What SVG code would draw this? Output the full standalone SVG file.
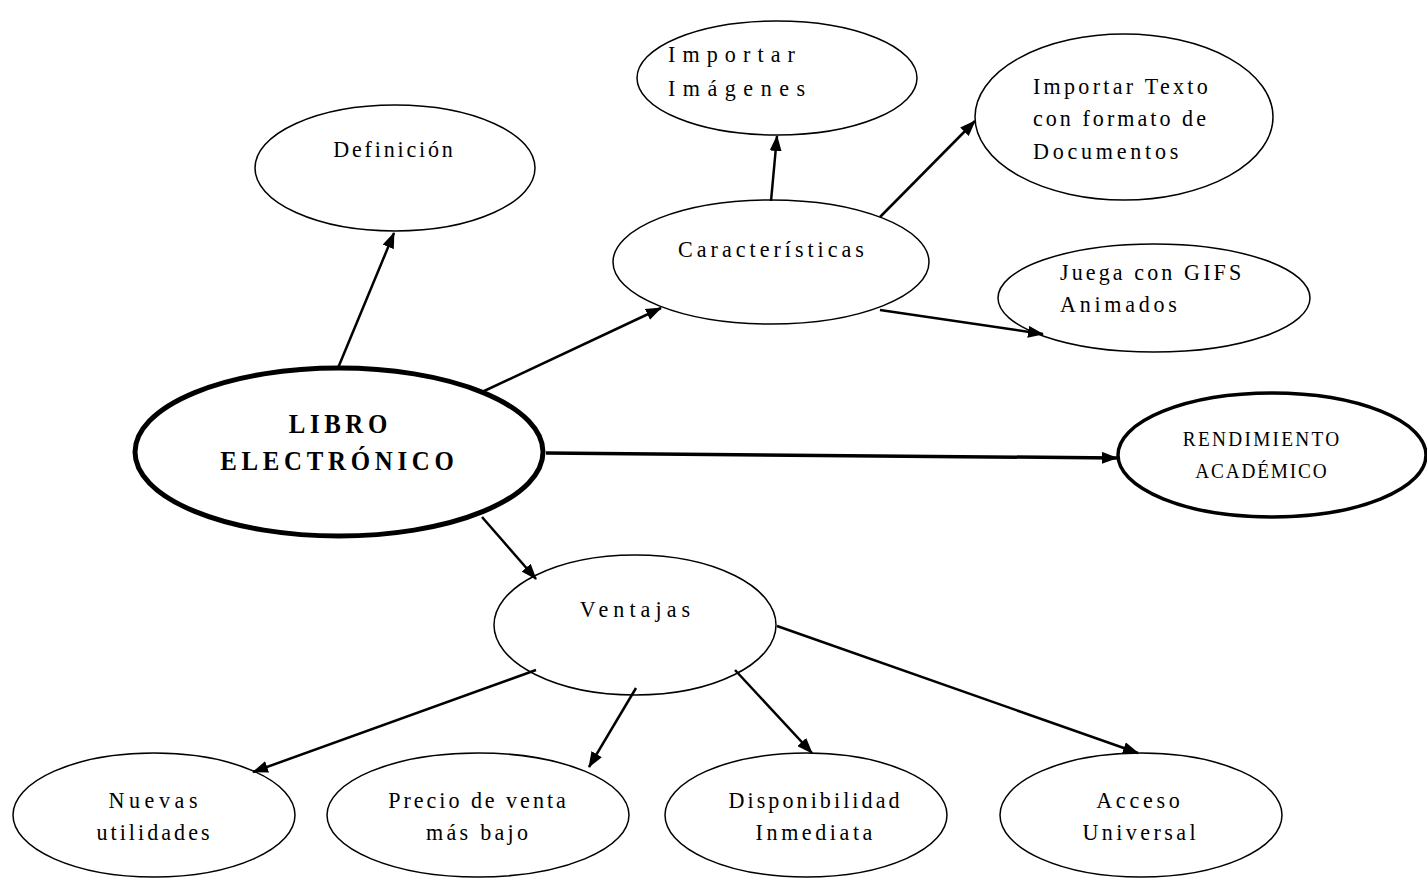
<svg xmlns="http://www.w3.org/2000/svg" width="1427" height="878" viewBox="0 0 1427 878">
<defs>
<marker id="arr" markerUnits="userSpaceOnUse" markerWidth="16" markerHeight="12" refX="15" refY="6" orient="auto">
<path d="M0,0 L16,6 L0,12 z" fill="#000"/>
</marker>
<style>
.n{fill:#fff;stroke:#000;stroke-width:1.5}
.t{font-family:"Liberation Serif","Times New Roman",serif;font-size:24px;fill:#000}
.c{text-anchor:middle}
.b{font-weight:bold;font-size:27px}
.r{font-size:21px}
.e line{stroke:#000;stroke-width:2.5;marker-end:url(#arr)}
</style>
</defs>
<rect width="1427" height="878" fill="#fff"/>
<g id="definicion"><ellipse class="n" cx="395" cy="168" rx="140" ry="63"/><text class="t c" transform="translate(393,157) scale(0.92,1)" textLength="130" lengthAdjust="spacing">Definición</text></g>
<g id="importar-imagenes"><ellipse class="n" cx="777" cy="78" rx="140" ry="57"/><text class="t" transform="translate(668,62) scale(0.92,1)" textLength="138" lengthAdjust="spacing">Importar</text><text class="t" transform="translate(668,96) scale(0.92,1)" textLength="149" lengthAdjust="spacing">Imágenes</text></g>
<g id="importar-texto"><ellipse class="n" cx="1124" cy="117" rx="149" ry="83"/><text class="t" transform="translate(1033,94) scale(0.92,1)" textLength="190" lengthAdjust="spacing">Importar Texto</text><text class="t" transform="translate(1033,126) scale(0.92,1)" textLength="188" lengthAdjust="spacing">con formato de</text><text class="t" transform="translate(1033,159) scale(0.92,1)" textLength="158" lengthAdjust="spacing">Documentos</text></g>
<g id="caracteristicas"><ellipse class="n" cx="771" cy="262" rx="158" ry="62"/><text class="t c" transform="translate(771,257) scale(0.92,1)" textLength="202" lengthAdjust="spacing">Características</text></g>
<g id="juega-gifs"><ellipse class="n" cx="1154" cy="298" rx="156" ry="54"/><text class="t" transform="translate(1060,280) scale(0.92,1)" textLength="197" lengthAdjust="spacing">Juega con GIFS</text><text class="t" transform="translate(1060,312) scale(0.92,1)" textLength="127" lengthAdjust="spacing">Animados</text></g>
<g id="libro"><ellipse cx="339" cy="452" rx="204" ry="84" fill="#fff" stroke="#000" stroke-width="5"/><text class="t c b" transform="translate(338,433) scale(0.92,1)" textLength="107" lengthAdjust="spacing">LIBRO</text><text class="t c b" transform="translate(337,470) scale(0.92,1)" textLength="254" lengthAdjust="spacing">ELECTRÓNICO</text></g>
<g id="rendimiento"><ellipse cx="1272" cy="455" rx="154" ry="62" fill="#fff" stroke="#000" stroke-width="3.5"/><text class="t c r" transform="translate(1261,446) scale(0.92,1)" textLength="170" lengthAdjust="spacing">RENDIMIENTO</text><text class="t c r" transform="translate(1261,478) scale(0.92,1)" textLength="143" lengthAdjust="spacing">ACADÉMICO</text></g>
<g id="ventajas"><ellipse class="n" cx="635" cy="625" rx="141" ry="70"/><text class="t c" transform="translate(635,617) scale(0.92,1)" textLength="120" lengthAdjust="spacing">Ventajas</text></g>
<g id="nuevas"><ellipse class="n" cx="154" cy="815" rx="141" ry="62"/><text class="t c" transform="translate(153,808) scale(0.92,1)" textLength="97" lengthAdjust="spacing">Nuevas</text><text class="t c" transform="translate(153,840) scale(0.92,1)" textLength="123" lengthAdjust="spacing">utilidades</text></g>
<g id="precio"><ellipse class="n" cx="478" cy="815" rx="151" ry="62"/><text class="t c" transform="translate(477,808) scale(0.92,1)" textLength="193" lengthAdjust="spacing">Precio de venta</text><text class="t c" transform="translate(477,840) scale(0.92,1)" textLength="111" lengthAdjust="spacing">más bajo</text></g>
<g id="disponibilidad"><ellipse class="n" cx="806" cy="815" rx="141" ry="62"/><text class="t c" transform="translate(814,808) scale(0.92,1)" textLength="186" lengthAdjust="spacing">Disponibilidad</text><text class="t c" transform="translate(814,840) scale(0.92,1)" textLength="127" lengthAdjust="spacing">Inmediata</text></g>
<g id="acceso"><ellipse class="n" cx="1141" cy="815" rx="141" ry="62"/><text class="t c" transform="translate(1138,808) scale(0.92,1)" textLength="91" lengthAdjust="spacing">Acceso</text><text class="t c" transform="translate(1139,840) scale(0.92,1)" textLength="123" lengthAdjust="spacing">Universal</text></g>
<g class="e" id="connectors">
<line x1="338" y1="368" x2="394" y2="233"/>
<line x1="482" y1="392" x2="661" y2="308"/>
<line x1="546" y1="453" x2="1117" y2="458" style="stroke-width:3.5"/>
<line x1="482" y1="517" x2="536" y2="579"/>
<line x1="771" y1="201" x2="777" y2="136"/>
<line x1="880" y1="217" x2="975" y2="121"/>
<line x1="880" y1="310" x2="1043" y2="334"/>
<line x1="536" y1="670" x2="253" y2="772"/>
<line x1="636" y1="688" x2="589" y2="767"/>
<line x1="735" y1="670" x2="812" y2="753"/>
<line x1="777" y1="626" x2="1138" y2="753"/>
</g>
</svg>
